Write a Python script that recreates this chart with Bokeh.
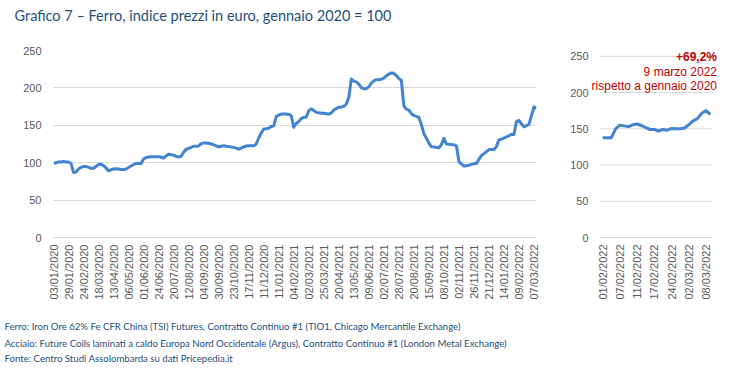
import math
from bokeh.plotting import figure
from bokeh.models import Range1d, FixedTicker, Label
from bokeh.layouts import row, column
from bokeh.core.properties import value
from bokeh.embed import file_html
from bokeh.resources import INLINE

# ---------------- data ----------------
title_text = "Grafico 7 \u2013 Ferro, indice prezzi in euro, gennaio 2020 = 100"

main_tick_labels = [
    "03/01/2020", "29/01/2020", "24/02/2020", "18/03/2020", "13/04/2020", "06/05/2020",
    "01/06/2020", "24/06/2020", "20/07/2020", "12/08/2020", "04/09/2020", "30/09/2020",
    "23/10/2020", "17/11/2020", "11/12/2020", "11/01/2021", "04/02/2021", "02/03/2021",
    "25/03/2021", "20/04/2021", "13/05/2021", "09/06/2021", "02/07/2021", "28/07/2021",
    "20/08/2021", "15/09/2021", "08/10/2021", "02/11/2021", "26/11/2021", "21/12/2021",
    "14/01/2022", "09/02/2022", "07/03/2022",
]
days_per_tick = 18       # trading days between two date labels
sample_step = 3          # one value every 3 trading days

iron_index = [
    99, 100, 101, 101, 101.5, 101, 101, 99, 87, 87.5,
    91.5, 93.8, 95, 95, 93.8, 92.5, 92.5, 95, 97.5, 98,
    96, 93, 89, 90.5, 91.5, 92, 91.5, 91, 91, 91.5,
    93.5, 95.5, 97.5, 99, 99, 99, 105, 107, 107.5, 108,
    108, 108, 108, 107.5, 106, 109, 111.4, 110.8, 110, 108.5,
    107.6, 108.5, 114, 118, 119, 120.5, 122, 122, 122.5, 125.5,
    126.4, 126.4, 126, 125, 124, 122.5, 121, 122, 122.8, 122,
    121.5, 121, 120.5, 119.5, 118, 119.5, 121, 122.3, 122.5, 122.5,
    122.5, 125, 133, 139.5, 145, 145.5, 146.2, 148.5, 149.3, 161.6,
    163.8, 165, 165, 165, 164.5, 163, 147.5, 152.5, 155, 159,
    160.8, 160.8, 169.6, 172, 170, 167.3, 166.8, 166, 166, 165.5,
    165, 166.5, 170.5, 172.5, 174, 174.5, 175.3, 178.5, 187.5, 212,
    209, 208, 205, 200.5, 199, 199, 201.5, 206.5, 209.5, 211,
    211, 211.5, 213, 216, 218.5, 220, 219.5, 216.5, 212.5, 210,
    176, 171.5, 170.2, 165.5, 163, 162, 160.5, 151, 139, 132.5,
    126, 121.5, 121, 120.5, 120, 124, 132.5, 125, 124.7, 124.3,
    124, 122.5, 101.5, 98.5, 95.5, 96, 96.5, 97.7, 98.7, 99,
    104.5, 109.7, 112, 114.8, 117.6, 117.6, 117.6, 121.5, 130.8, 131.4,
    133, 134.5, 136, 138, 137.8, 155, 156.5, 152, 148, 149.5,
    151.5, 163, 174.5, 173,
]

zoom_dates = [
    "01/02/2022", "02/02/2022", "03/02/2022", "04/02/2022", "07/02/2022", "08/02/2022",
    "09/02/2022", "10/02/2022", "11/02/2022", "14/02/2022", "15/02/2022", "16/02/2022",
    "17/02/2022", "18/02/2022", "22/02/2022", "23/02/2022", "24/02/2022", "25/02/2022",
    "28/02/2022", "01/03/2022", "02/03/2022", "03/03/2022", "04/03/2022", "07/03/2022",
    "08/03/2022", "09/03/2022",
]
zoom_label_every = 4
zoom_values = [
    137.5, 137.5, 137.5, 150, 155, 154, 153, 155.5, 156.6, 154.5,
    151.5, 149, 149, 147, 149, 148, 150.5, 150, 150, 151,
    155.5, 161, 164, 171.5, 175, 170,
]

y_ticks = [0, 50, 100, 150, 200, 250]
note_lines = [
    "Ferro: Iron Ore 62% Fe CFR China (TSI) Futures, Contratto Continuo #1 (TIO1, Chicago Mercantile Exchange)",
    "Acciaio: Future Coils laminati a caldo Europa Nord Occidentale (Argus), Contratto Continuo #1 (London Metal Exchange)",
    "Fonte: Centro Studi Assolombarda su dati Pricepedia.it",
]
callout_lines = ["+69,2%", "9 marzo 2022", "rispetto a gennaio 2020"]

# ---------------- style ----------------
LINE = "#4384D0"
GRID = "#D9D9D9"
TICK = "#595959"
NAVY = "#1F4E79"
RED = "#C00000"
AX_FONT = "Liberation Sans"
TXT_FONT = "Lato"
W = 748
TITLE_H = 36
ROW_H = 280
NOTES_H = 53


def style(p, xticks, overrides, y_standoff=12):
    p.outline_line_color = None
    p.background_fill_color = "white"
    p.border_fill_color = "white"
    p.xgrid.grid_line_color = None
    p.ygrid.grid_line_color = GRID
    p.ygrid.grid_line_width = 1
    p.yaxis.ticker = FixedTicker(ticks=y_ticks)
    p.yaxis.axis_line_color = None
    p.yaxis.major_tick_line_color = None
    p.yaxis.minor_tick_line_color = None
    p.yaxis.major_tick_out = 0
    p.yaxis.major_label_standoff = y_standoff
    p.yaxis.major_label_text_font = AX_FONT
    p.yaxis.major_label_text_font_size = "11px"
    p.yaxis.major_label_text_color = TICK
    p.xaxis.ticker = FixedTicker(ticks=xticks)
    p.xaxis.major_label_overrides = overrides
    p.xaxis.axis_line_color = GRID
    p.xaxis.major_tick_line_color = None
    p.xaxis.minor_tick_line_color = None
    p.xaxis.major_tick_out = 0
    p.xaxis.major_label_standoff = 7
    p.xaxis.major_label_orientation = math.pi / 2
    p.xaxis.major_label_text_font = AX_FONT
    p.xaxis.major_label_text_font_size = "11px"
    p.xaxis.major_label_text_color = TICK


def text_panel(height, y_top):
    p = figure(width=W, height=height, x_range=Range1d(0, W),
               y_range=Range1d(y_top + height, y_top), output_backend="svg",
               toolbar_location=None, title=None, x_axis_location=None, y_axis_location=None,
               min_border=0, min_border_left=0, min_border_right=0,
               min_border_top=0, min_border_bottom=0)
    p.outline_line_color = None
    p.grid.visible = False
    p.background_fill_color = "white"
    p.border_fill_color = "white"
    return p


# ---------------- title panel (page pixel coordinates) ----------------
t_fig = text_panel(TITLE_H, 0)
t_fig.text(x=[14], y=[15], text=[title_text], text_font=value(TXT_FONT),
           text_font_size="14.5px", text_color=NAVY, text_baseline="middle")

# ---------------- main chart ----------------
main_days = [i * sample_step for i in range(len(iron_index))]
main_ticks = [i * days_per_tick for i in range(len(main_tick_labels))]
x_end = main_days[-1]

p1 = figure(width=558, height=ROW_H, x_range=Range1d(0, x_end), y_range=Range1d(0, 250),
            output_backend="svg", toolbar_location=None,
            min_border_left=53, min_border_right=22, min_border_top=14,
            min_border_bottom=ROW_H - 14 - 189)
style(p1, main_ticks, {t: lab for t, lab in zip(main_ticks, main_tick_labels)})
p1.line(main_days, iron_index, line_color=LINE, line_width=3, line_join="round")

# ---------------- zoom chart ----------------
zoom_x = list(range(len(zoom_values)))
zoom_ticks = list(range(0, len(zoom_dates), zoom_label_every))
n_z = len(zoom_values)
px_per_cat = 112.0 / n_z            # plotted categories span 112 px (page 600..712)
frame_l, frame_r = 590, 720         # wider frame so the callout is not clipped
z_start = -0.5 - (600 - frame_l) / px_per_cat
z_end = n_z - 0.5 + (frame_r - 712) / px_per_cat

p2 = figure(width=W - 558, height=ROW_H, x_range=Range1d(z_start, z_end),
            y_range=Range1d(0, 258), output_backend="svg", toolbar_location=None,
            min_border_left=frame_l - 558, min_border_right=W - frame_r, min_border_top=9,
            min_border_bottom=ROW_H - 9 - 192)
style(p2, zoom_ticks, {t: zoom_dates[t] for t in zoom_ticks}, y_standoff=2)
p2.ygrid.grid_line_color = None
p2.xaxis.bounds = (-0.5, n_z - 0.5)
# gridlines limited to the plotted categories
p2.segment(x0=[-0.5] * len(y_ticks), x1=[n_z - 0.5] * len(y_ticks), y0=y_ticks, y1=y_ticks,
           line_color=GRID, line_width=1)
p2.line(zoom_x, zoom_values, line_color=LINE, line_width=3, line_join="round")

def z_x(px):
    return z_start + (px - frame_l) / px_per_cat

def z_y(py):
    return (237 - py) * 258 / 192.0

for txt, py, bold in zip(callout_lines, [52, 67.5, 81], [True, False, False]):
    p2.add_layout(Label(x=z_x(716.5), y=z_y(py), text=txt, text_font=AX_FONT,
                        text_font_size="12px", text_color=RED, text_align="right",
                        text_baseline="middle", text_font_style="bold" if bold else "normal"))

# ---------------- notes panel (page pixel coordinates) ----------------
notes_top = TITLE_H + ROW_H
n_fig = text_panel(NOTES_H, notes_top)
n_fig.text(x=[4, 4, 4], y=[326, 343, 358], text=note_lines, text_font=value(TXT_FONT),
           text_font_size="9.6px", text_color=NAVY, text_baseline="middle")

layout = column(t_fig, row(p1, p2), n_fig)
open("out.html", "w").write(file_html(layout, INLINE))
